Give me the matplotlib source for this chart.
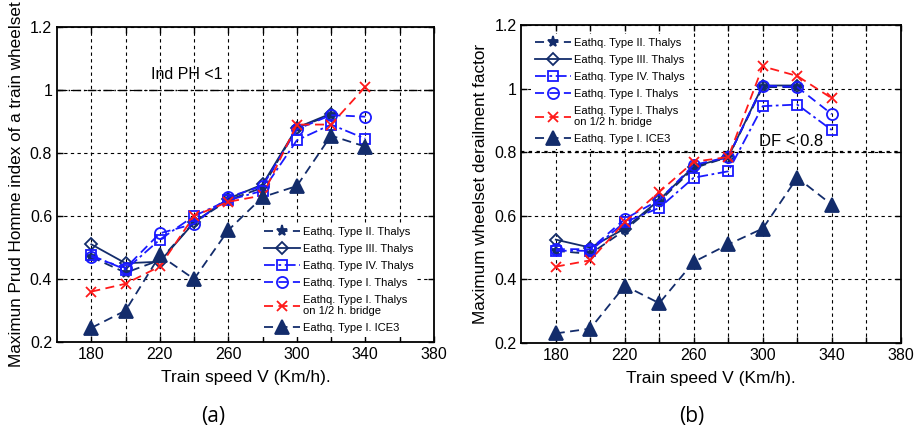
import matplotlib.pyplot as plt

plt.rcParams['font.family'] = ['Liberation Sans', 'DejaVu Sans']

# Prędkości pociągu (km/h)
predkosc = [180, 200, 220, 240, 260, 280, 300, 320, 340]

# (a) wskaźnik Prud'Homme
ph_typ2 = [0.47, 0.42, 0.46, 0.58, 0.65, 0.69, 0.88, 0.92]
ph_typ3 = [0.51, 0.45, 0.455, 0.58, 0.655, 0.70, 0.88, 0.925]
ph_typ4 = [0.475, 0.43, 0.525, 0.60, 0.65, 0.68, 0.84, 0.89, 0.845]
ph_typ1 = [0.47, 0.435, 0.545, 0.575, 0.66, 0.695, 0.875, 0.92, 0.915]
ph_most = [0.36, 0.385, 0.44, 0.60, 0.645, 0.665, 0.89, 0.89, 1.01]
ph_ice3 = [0.245, 0.30, 0.475, 0.40, 0.555, 0.66, 0.695, 0.855, 0.82]

# (b) współczynnik wykolejenia
df_typ2 = [0.49, 0.48, 0.555, 0.645, 0.75, 0.785, 1.005, 1.005]
df_typ3 = [0.525, 0.50, 0.56, 0.65, 0.755, 0.785, 1.01, 1.01]
df_typ4 = [0.49, 0.49, 0.58, 0.625, 0.72, 0.74, 0.945, 0.95, 0.87]
df_typ1 = [0.495, 0.495, 0.59, 0.65, 0.76, 0.785, 1.01, 1.005, 0.92]
df_most = [0.44, 0.46, 0.58, 0.675, 0.77, 0.785, 1.07, 1.04, 0.97]
df_ice3 = [0.23, 0.245, 0.38, 0.325, 0.455, 0.51, 0.56, 0.72, 0.635]

etykiety = ['Eathq. Type II. Thalys', 'Eathq. Type III. Thalys',
            'Eathq. Type IV. Thalys', 'Eathq. Type I. Thalys',
            'Eathq. Type I. Thalys\non 1/2 h. bridge', 'Eathq. Type I. ICE3']

GRANAT = '#132c6b'
NIEBIESKI = '#1a1aff'
CZERWONY = '#ff1a1a'

style = [
    dict(color=GRANAT, ls=(0, (5, 3)), marker='*', ms=8, mfc=GRANAT),
    dict(color=GRANAT, ls='-', marker='D', ms=6, mfc='none'),
    dict(color=NIEBIESKI, ls=(0, (6, 2, 1.5, 2)), marker='s', ms=7, mfc='none'),
    dict(color=NIEBIESKI, ls=(0, (5, 3)), marker='o', ms=8, mfc='none'),
    dict(color=CZERWONY, ls=(0, (5, 3)), marker='x', ms=7, mfc='none'),
    dict(color=GRANAT, ls=(0, (5, 3)), marker='^', ms=10, mfc=GRANAT),
]


def rysuj_panel(ax, serie):
    for dane, st, et in zip(serie, style, etykiety):
        ax.plot(predkosc[:len(dane)], dane, lw=1.3, mew=1.3, label=et, **st)
    ax.set_xlim(160, 380)
    ax.set_ylim(0.2, 1.2)
    ax.set_xticks([180, 220, 260, 300, 340, 380])
    ax.set_xticks(range(200, 380, 40), minor=True)
    ax.set_yticks([0.2, 0.4, 0.6, 0.8, 1.0, 1.2])
    ax.set_yticklabels(['0.2', '0.4', '0.6', '0.8', '1', '1.2'])
    ax.tick_params(which='both', direction='in', top=True, right=True,
                   labelsize=11.5, length=4, width=1)
    ax.grid(True, which='both', color='black', ls=(0, (3, 3)), lw=0.8)
    for s in ax.spines.values():
        s.set_linewidth(1.3)
    ax.set_xlabel('Train speed V (Km/h).', fontsize=12.5, labelpad=6)


fig = plt.figure(figsize=(9.21, 4.33), dpi=100)
ax1 = fig.add_axes([0.062, 0.21, 0.409, 0.728])
ax2 = fig.add_axes([0.566, 0.208, 0.412, 0.734])

rysuj_panel(ax1, [ph_typ2, ph_typ3, ph_typ4, ph_typ1, ph_most, ph_ice3])
ax1.axhline(1.0, color='black', lw=1.0, ls=(0, (6, 2, 1, 2)), zorder=1)
ax1.text(215, 1.035, 'Ind PH <1', fontsize=11.5)
ax1.set_ylabel('Maximun Prud Homme index of a train wheelset', fontsize=12.3)
ax1.legend(loc='lower right', bbox_to_anchor=(0.97, 0.0), frameon=True,
           edgecolor='none', framealpha=1, fontsize=8, handlelength=3.2,
           labelspacing=0.62, borderpad=0.3, handletextpad=0.3)

rysuj_panel(ax2, [df_typ2, df_typ3, df_typ4, df_typ1, df_most, df_ice3])
ax2.axhline(0.8, color='black', lw=1.6, ls=(0, (1.5, 2)), zorder=1)
ax2.text(298, 0.82, 'DF < 0.8', fontsize=12)
ax2.set_ylabel('Maximum wheelset derailment factor', fontsize=12.3)
ax2.legend(loc='upper left', bbox_to_anchor=(0.01, 0.99), frameon=True,
           edgecolor='none', framealpha=1, fontsize=8, handlelength=3.2,
           labelspacing=0.62, borderpad=0.4, handletextpad=0.3)

fig.text(0.232, 0.037, '(a)', fontsize=15, family='Open Sans',
         ha='center', va='center')
fig.text(0.751, 0.037, '(b)', fontsize=15, family='Open Sans',
         ha='center', va='center')

fig.savefig('out.png', dpi=100)
